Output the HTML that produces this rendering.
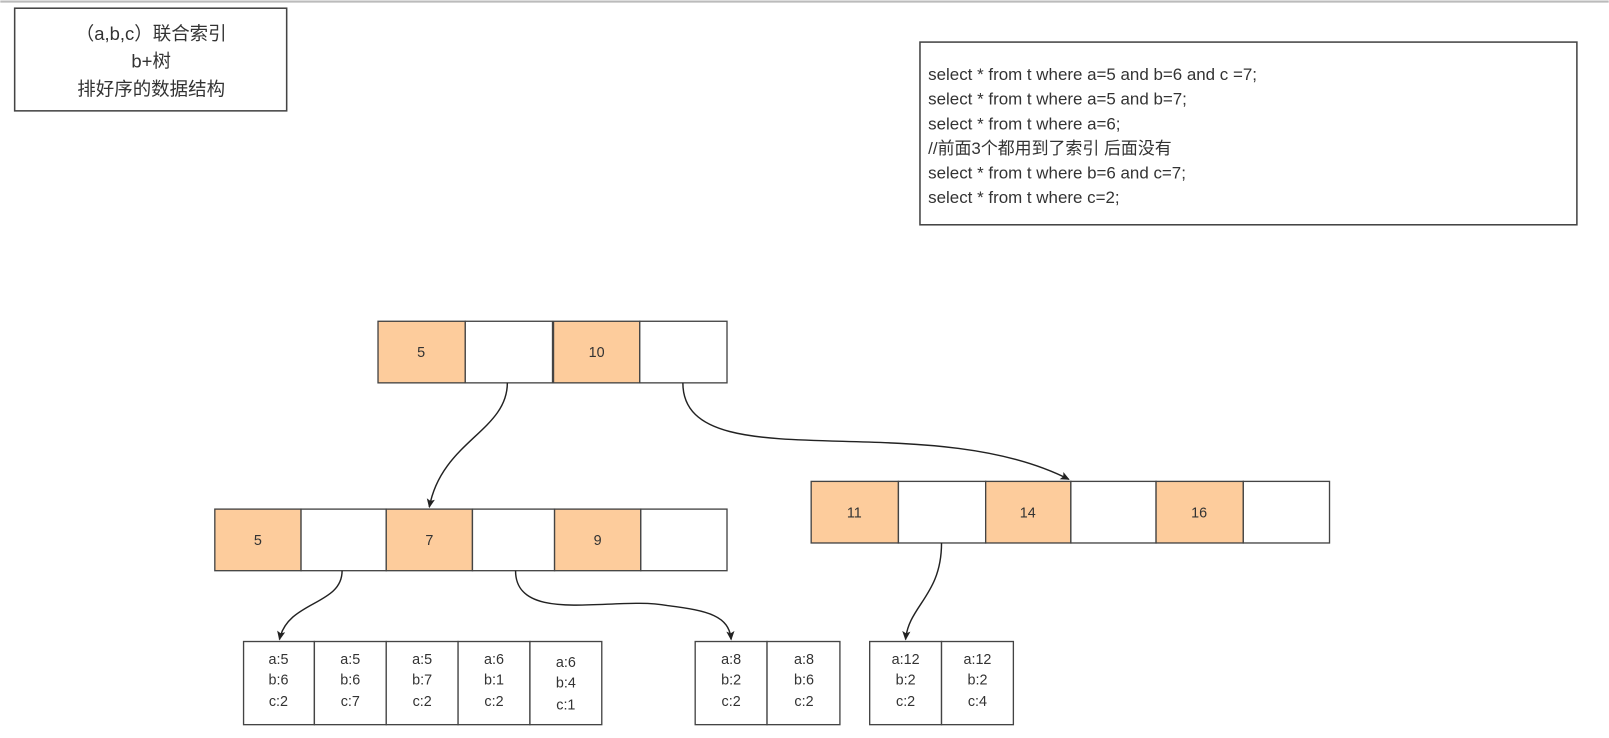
<!DOCTYPE html>
<html><head><meta charset="utf-8"><style>
html,body{margin:0;padding:0;background:#fff;width:1609px;height:738px;overflow:hidden}
svg{display:block}
text{font-family:"Liberation Sans","Noto Sans CJK SC",sans-serif;fill:#333}
</style></head><body>
<svg width="1609" height="738" viewBox="0 0 1567 719" xmlns="http://www.w3.org/2000/svg">
<defs><marker id="a" markerWidth="10" markerHeight="10" refX="8" refY="5" orient="auto" markerUnits="userSpaceOnUse"><path d="M0,1 L9,5 L0,9 L2,5 z" fill="#222"/></marker></defs>
<line x1="0" y1="1.5" x2="1567" y2="1.5" stroke="#bbb" stroke-width="2"/>
<rect x="14" y="8" width="265" height="100" fill="#fff" stroke="#444" stroke-width="1.5"/>
<text x="147" y="39" font-size="18" text-anchor="middle">（a,b,c）联合索引</text>
<text x="147" y="66" font-size="18" text-anchor="middle">b+树</text>
<text x="147" y="93" font-size="18" text-anchor="middle">排好序的数据结构</text>
<rect x="896" y="41" width="640" height="178" fill="#fff" stroke="#444" stroke-width="1.5"/>
<g font-size="16.5">
<text x="904" y="78">select * from t where a=5 and b=6 and c =7;</text>
<text x="904" y="102">select * from t where a=5 and b=7;</text>
<text x="904" y="126">select * from t where a=6;</text>
<text x="904" y="150">//前面3个都用到了索引  后面没有</text>
<text x="904" y="174">select * from t where b=6 and c=7;</text>
<text x="904" y="198">select * from t where c=2;</text>
</g>
<g stroke="#444" stroke-width="1.3" font-size="14">
<rect x="368" y="313" width="85" height="60" fill="#fdcc9c"/><rect x="453" y="313" width="85" height="60" fill="#fff"/>
<rect x="539" y="313" width="84" height="60" fill="#fdcc9c"/><rect x="623" y="313" width="85" height="60" fill="#fff"/>
<rect x="209" y="496" width="84" height="60" fill="#fdcc9c"/><rect x="293" y="496" width="83" height="60" fill="#fff"/>
<rect x="376" y="496" width="84" height="60" fill="#fdcc9c"/><rect x="460" y="496" width="80" height="60" fill="#fff"/>
<rect x="540" y="496" width="84" height="60" fill="#fdcc9c"/><rect x="624" y="496" width="84" height="60" fill="#fff"/>
<rect x="790" y="469" width="85" height="60" fill="#fdcc9c"/><rect x="875" y="469" width="85" height="60" fill="#fff"/>
<rect x="960" y="469" width="83" height="60" fill="#fdcc9c"/><rect x="1043" y="469" width="83" height="60" fill="#fff"/>
<rect x="1126" y="469" width="85" height="60" fill="#fdcc9c"/><rect x="1211" y="469" width="84" height="60" fill="#fff"/>
<g fill="#fff">
<rect x="237" y="625" width="69" height="81"/><rect x="306" y="625" width="70" height="81"/>
<rect x="376" y="625" width="70" height="81"/><rect x="446" y="625" width="70" height="81"/>
<rect x="516" y="625" width="70" height="81"/>
<rect x="677" y="625" width="70" height="81"/><rect x="747" y="625" width="71" height="81"/>
<rect x="847" y="625" width="70" height="81"/><rect x="917" y="625" width="70" height="81"/>
</g>
</g>
<g font-size="14" text-anchor="middle">
<text x="410" y="348">5</text><text x="581" y="348">10</text>
<text x="251" y="531">5</text><text x="418" y="531">7</text><text x="582" y="531">9</text>
<text x="832" y="504">11</text><text x="1001" y="504">14</text><text x="1168" y="504">16</text>
</g>
<g font-size="14" text-anchor="middle">
<text x="271" y="647">a:5</text><text x="271" y="667">b:6</text><text x="271" y="688">c:2</text>
<text x="341" y="647">a:5</text><text x="341" y="667">b:6</text><text x="341" y="688">c:7</text>
<text x="411" y="647">a:5</text><text x="411" y="667">b:7</text><text x="411" y="688">c:2</text>
<text x="481" y="647">a:6</text><text x="481" y="667">b:1</text><text x="481" y="688">c:2</text>
<text x="551" y="650">a:6</text><text x="551" y="670">b:4</text><text x="551" y="691">c:1</text>
<text x="712" y="647">a:8</text><text x="712" y="667">b:2</text><text x="712" y="688">c:2</text>
<text x="783" y="647">a:8</text><text x="783" y="667">b:6</text><text x="783" y="688">c:2</text>
<text x="882" y="647">a:12</text><text x="882" y="667">b:2</text><text x="882" y="688">c:2</text>
<text x="952" y="647">a:12</text><text x="952" y="667">b:2</text><text x="952" y="688">c:4</text>
</g>
<g fill="none" stroke="#222" stroke-width="1.4" marker-end="url(#a)">
<path d="M494,373 C494,420 430,430 418,494"/>
<path d="M665,373 C665,470 900,395 1041,467"/>
<path d="M333,556 C333,590 280,585 272,623"/>
<path d="M502,556 C502,610 600,580 650,590 C690,595 710,600 712,623"/>
<path d="M917,529 C917,580 885,590 882,623"/>
</g>
</svg>
</body></html>
